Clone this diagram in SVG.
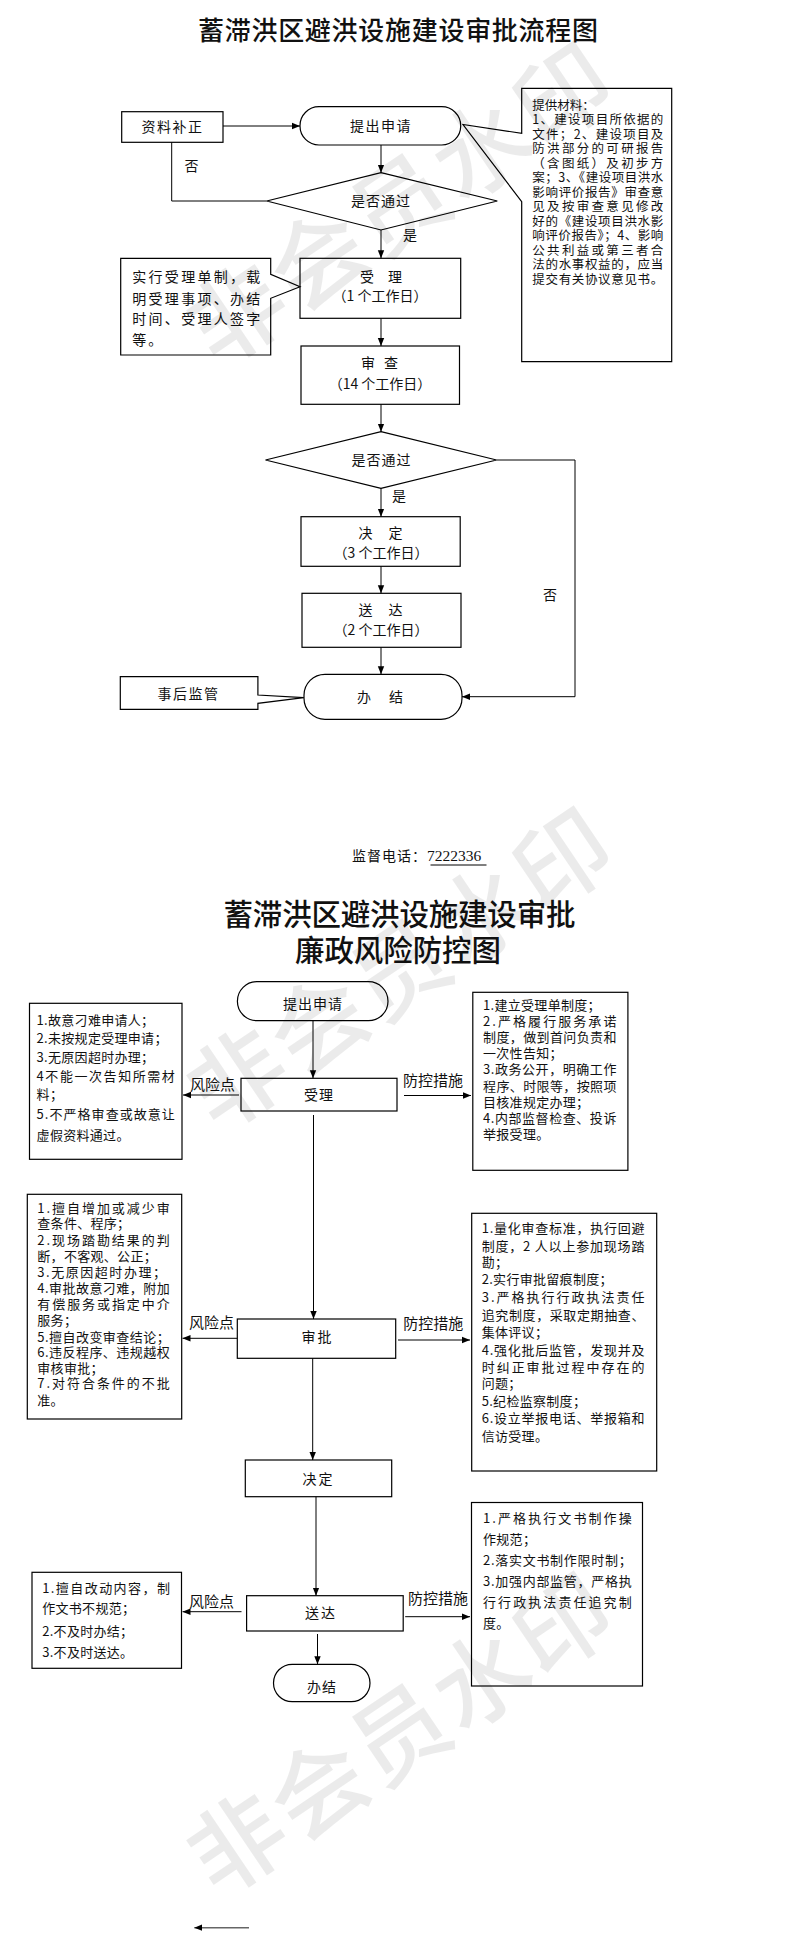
<svg xmlns="http://www.w3.org/2000/svg" width="793" height="1947" viewBox="0 0 793 1947">
<style>
.t{font-family:"Noto Sans CJK SC","Noto Sans",sans-serif;fill:#111;}
.c{text-anchor:middle;}
.f14{font-size:14px;}
.f13{font-size:13px;letter-spacing:0.3px;}
.f125{font-size:12.5px;}
.f15{font-size:15px;}
.box{fill:none;stroke:#000;stroke-width:1.2;}
.ln{fill:none;stroke:#000;stroke-width:1;}
.a{marker-end:url(#ah);}
.wm{font-family:"Noto Sans CJK SC",sans-serif;font-size:95px;font-weight:500;fill:#000;fill-opacity:0.08;letter-spacing:3px;text-anchor:middle;}
</style>
<defs>
<marker id="ah" viewBox="0 0 10 10" refX="10" refY="5" markerWidth="8" markerHeight="8" markerUnits="userSpaceOnUse" orient="auto"><path d="M0,1 L10,5 L0,9 Z" fill="#000"/></marker>
</defs>
<rect x="0" y="0" width="793" height="1947" fill="#fff"/>

<!-- ===== Section 1 ===== -->
<text class="t" x="398" y="40" font-size="26" font-weight="500" text-anchor="middle" textLength="400" lengthAdjust="spacing">蓄滞洪区避洪设施建设审批流程图</text>

<g id="n-zlbz"><rect class="box" x="121.7" y="111.7" width="101.3" height="30.6"/><text class="t f14 c" x="172.5" y="132" letter-spacing="1.5">资料补正</text></g>
<g id="n-tcsq"><rect class="box" x="300" y="106.7" width="160.7" height="38.3" rx="19" ry="19"/><text class="t f14 c" x="381" y="131.3" letter-spacing="1.5">提出申请</text></g>
<g id="n-d1"><polygon class="box" points="381,172.7 497.3,201 381,230 266.7,201"/><text class="t f14 c" x="381" y="206.3" letter-spacing="1">是否通过</text></g>
<g id="n-sl"><rect class="box" x="300" y="258.3" width="160.7" height="60"/><text class="t f14 c" x="381" y="282">受　理</text><text class="t f14 c" x="380" y="301.3">（1 个工作日）</text></g>
<g id="n-sc"><rect class="box" x="301" y="346" width="158.5" height="58.3"/><text class="t f14 c" x="381" y="367.6" letter-spacing="3">审 查</text><text class="t f14 c" x="380" y="389.3">（14 个工作日）</text></g>
<g id="n-d2"><polygon class="box" points="381,431.7 496.6,460 381,488.3 265.5,460"/><text class="t f14 c" x="381.6" y="465.3" letter-spacing="1">是否通过</text></g>
<g id="n-jd"><rect class="box" x="301" y="516.7" width="159.2" height="49.6"/><text class="t f14 c" x="381" y="537.6" letter-spacing="1">决　定</text><text class="t f14 c" x="381" y="558">（3 个工作日）</text></g>
<g id="n-sd"><rect class="box" x="302" y="593.3" width="159" height="54"/><text class="t f14 c" x="381" y="614.6" letter-spacing="1">送　达</text><text class="t f14 c" x="381" y="635.3">（2 个工作日）</text></g>
<g id="n-bj"><rect class="box" x="304" y="674.3" width="158" height="45" rx="21" ry="21"/><text class="t f14 c" x="381" y="702.3" letter-spacing="2">办　结</text></g>

<g id="n-clsq">
<path class="box" d="M521.7,88.3 L671.7,88.3 L671.7,361.7 L521.7,361.7 L521.7,201.7 L463,124.5 L521.7,133.3 Z"/>
<g class="t f125">
<text x="532.3" y="109.8">提供材料：</text>
<text x="532.3" y="124.3" textLength="131" lengthAdjust="spacing">1、建设项目所依据的</text>
<text x="532.3" y="138.8" textLength="131" lengthAdjust="spacing">文件；2、建设项目及</text>
<text x="532.3" y="153.3" textLength="131" lengthAdjust="spacing">防洪部分的可研报告</text>
<text x="532.3" y="167.8" textLength="131" lengthAdjust="spacing">（含图纸）及初步方</text>
<text x="532.3" y="182.3" textLength="131" lengthAdjust="spacing">案；3、《建设项目洪水</text>
<text x="532.3" y="196.8" textLength="131" lengthAdjust="spacing">影响评价报告》审查意</text>
<text x="532.3" y="211.3" textLength="131" lengthAdjust="spacing">见及按审查意见修改</text>
<text x="532.3" y="225.8" textLength="131" lengthAdjust="spacing">好的《建设项目洪水影</text>
<text x="532.3" y="240.3" textLength="131" lengthAdjust="spacing">响评价报告》；4、影响</text>
<text x="532.3" y="254.8" textLength="131" lengthAdjust="spacing">公共利益或第三者合</text>
<text x="532.3" y="269.3" textLength="131" lengthAdjust="spacing">法的水事权益的，应当</text>
<text x="532.3" y="283.8" textLength="131" lengthAdjust="spacing">提交有关协议意见书。</text>
</g>
</g>

<g id="n-slsm">
<path class="box" d="M120.7,258.3 L270.7,258.3 L270.7,274.3 L300,286.7 L270.7,298.3 L270.7,355 L120.7,355 Z"/>
<g class="t f14">
<text x="132.3" y="282" textLength="128" lengthAdjust="spacing">实行受理单制，载</text>
<text x="132.3" y="303.5" textLength="128" lengthAdjust="spacing">明受理事项、办结</text>
<text x="132.3" y="323.5" textLength="128" lengthAdjust="spacing">时间、受理人签字</text>
<text x="132.3" y="345" letter-spacing="2">等。</text>
</g>
</g>

<g id="n-shjg">
<path class="box" d="M120.3,676.7 L257.9,676.7 L257.9,695 L303.8,697.7 L257.9,703.3 L257.9,709.3 L120.3,709.3 Z"/>
<text class="t f14 c" x="188.5" y="698.6" letter-spacing="1.5">事后监管</text>
</g>

<g id="connectors1">
<line class="ln a" x1="223" y1="126" x2="300" y2="126"/>
<line class="ln a" x1="381" y1="145" x2="381" y2="172.7"/>
<polyline class="ln" points="266.7,201 171.7,201 171.7,142.3"/>
<line class="ln a" x1="381" y1="230" x2="381" y2="258.3"/>
<line class="ln a" x1="381" y1="318.3" x2="381" y2="346"/>
<line class="ln a" x1="381" y1="404.3" x2="381" y2="431.7"/>
<line class="ln a" x1="381" y1="488.3" x2="381" y2="516.7"/>
<line class="ln a" x1="381" y1="566.3" x2="381" y2="593.3"/>
<line class="ln a" x1="381" y1="647.3" x2="381" y2="674.3"/>
<polyline class="ln a" points="496.6,460 575,460 575,696.7 462,696.7"/>
<text class="t f14" x="184.5" y="171">否</text>
<text class="t f14" x="403" y="240">是</text>
<text class="t f14" x="392" y="501">是</text>
<text class="t f14" x="543" y="599.6">否</text>
</g>

<g id="phone">
<text class="t f14" x="352" y="861" letter-spacing="1">监督电话：<tspan font-family="Liberation Serif" font-size="15.5" letter-spacing="0">7222336</tspan></text>
<line x1="430.5" y1="865" x2="486.5" y2="865" stroke="#000" stroke-width="1"/>
</g>

<!-- ===== Section 2 ===== -->
<text class="t" x="399.5" y="925" font-size="29.5" font-weight="500" text-anchor="middle" textLength="352" lengthAdjust="spacing">蓄滞洪区避洪设施建设审批</text>
<text class="t" x="398" y="961" font-size="29.5" font-weight="500" text-anchor="middle" textLength="206" lengthAdjust="spacing">廉政风险防控图</text>

<g id="m-tcsq"><rect class="box" x="237.4" y="981.7" width="150.6" height="39" rx="19.5" ry="19.5"/><text class="t f14 c" x="313" y="1009.3" letter-spacing="1">提出申请</text></g>
<g id="m-sl"><rect class="box" x="241" y="1078.3" width="156" height="32.7"/><text class="t f14 c" x="319" y="1100.3" letter-spacing="1">受理</text></g>
<g id="m-sp"><rect class="box" x="237.3" y="1319" width="158.4" height="39.3"/><text class="t f14 c" x="317.5" y="1342" letter-spacing="2">审批</text></g>
<g id="m-jd"><rect class="box" x="245.3" y="1460" width="146.4" height="36.7"/><text class="t f14 c" x="318.5" y="1483.6" letter-spacing="2">决定</text></g>
<g id="m-sd"><rect class="box" x="246.6" y="1595.7" width="156.6" height="35.3"/><text class="t f14 c" x="321" y="1617.6" letter-spacing="2">送达</text></g>
<g id="m-bj"><rect class="box" x="273.5" y="1664.3" width="96.5" height="37.4" rx="18.7" ry="18.7"/><text class="t f14 c" x="322" y="1692" letter-spacing="1">办结</text></g>

<g id="m-risk1">
<rect class="box" x="29.5" y="1003.3" width="152.5" height="156"/>
<g class="t f13">
<text x="36.6" y="1025">1.故意刁难申请人；</text>
<text x="36.6" y="1043.3">2.未按规定受理申请；</text>
<text x="36.6" y="1062.3">3.无原因超时办理；</text>
<text x="36.6" y="1081" textLength="138.5" lengthAdjust="spacing">4不能一次告知所需材</text>
<text x="36.6" y="1099.3">料；</text>
<text x="36.6" y="1119" textLength="138.5" lengthAdjust="spacing">5.不严格审查或故意让</text>
<text x="36.6" y="1140">虚假资料通过。</text>
</g>
</g>

<g id="m-ctrl1">
<rect class="box" x="472.8" y="992.3" width="155.1" height="178"/>
<g class="t f13">
<text x="483" y="1010">1.建立受理单制度；</text>
<text x="483" y="1026.1" textLength="133.7" lengthAdjust="spacing">2.严格履行服务承诺</text>
<text x="483" y="1042.2" textLength="133.7" lengthAdjust="spacing">制度，做到首问负责和</text>
<text x="483" y="1058.3">一次性告知；</text>
<text x="483" y="1074.4" textLength="133.7" lengthAdjust="spacing">3.政务公开，明确工作</text>
<text x="483" y="1090.5" textLength="133.7" lengthAdjust="spacing">程序、时限等，按照项</text>
<text x="483" y="1106.6">目核准规定办理；</text>
<text x="483" y="1122.7" textLength="133.7" lengthAdjust="spacing">4.内部监督检查、投诉</text>
<text x="483" y="1138.8">举报受理。</text>
</g>
</g>

<g id="m-risk2">
<rect class="box" x="27.3" y="1194.3" width="154.4" height="224.7"/>
<g class="t f13">
<text x="37.3" y="1212.7" textLength="132.7" lengthAdjust="spacing">1.擅自增加或减少审</text>
<text x="37.3" y="1228.3">查条件、程序；</text>
<text x="37.3" y="1245" textLength="132.7" lengthAdjust="spacing">2.现场踏勘结果的判</text>
<text x="37.3" y="1261">断，不客观、公正；</text>
<text x="37.3" y="1276.7" textLength="129" lengthAdjust="spacing">3.无原因超时办理；</text>
<text x="37.3" y="1292.7" textLength="132.7" lengthAdjust="spacing">4.审批故意刁难，附加</text>
<text x="37.3" y="1309.3" textLength="132.7" lengthAdjust="spacing">有偿服务或指定中介</text>
<text x="37.3" y="1325">服务；</text>
<text x="37.3" y="1341.7" textLength="132.7" lengthAdjust="spacing">5.擅自改变审查结论；</text>
<text x="37.3" y="1356.7" textLength="132.7" lengthAdjust="spacing">6.违反程序、违规越权</text>
<text x="37.3" y="1372.7">审核审批；</text>
<text x="37.3" y="1388.3" textLength="132.7" lengthAdjust="spacing">7.对符合条件的不批</text>
<text x="37.3" y="1405">准。</text>
</g>
</g>

<g id="m-ctrl2">
<rect class="box" x="471.7" y="1213.3" width="185" height="257.7"/>
<g class="t f13">
<text x="481.7" y="1233.3" textLength="163" lengthAdjust="spacing">1.量化审查标准，执行回避</text>
<text x="481.7" y="1250.7" textLength="163" lengthAdjust="spacing">制度，2 人以上参加现场踏</text>
<text x="481.7" y="1266.7">勘；</text>
<text x="481.7" y="1284">2.实行审批留痕制度；</text>
<text x="481.7" y="1302.3" textLength="163" lengthAdjust="spacing">3.严格执行行政执法责任</text>
<text x="481.7" y="1320" textLength="163" lengthAdjust="spacing">追究制度，采取定期抽查、</text>
<text x="481.7" y="1337.3">集体评议；</text>
<text x="481.7" y="1355" textLength="163" lengthAdjust="spacing">4.强化批后监管，发现并及</text>
<text x="481.7" y="1371.7" textLength="163" lengthAdjust="spacing">时纠正审批过程中存在的</text>
<text x="481.7" y="1388.3">问题；</text>
<text x="481.7" y="1406">5.纪检监察制度；</text>
<text x="481.7" y="1423.3" textLength="163" lengthAdjust="spacing">6.设立举报电话、举报箱和</text>
<text x="481.7" y="1440.7">信访受理。</text>
</g>
</g>

<g id="m-risk3">
<rect class="box" x="32" y="1572.3" width="149.5" height="96"/>
<g class="t f13">
<text x="42.2" y="1593.3" textLength="128" lengthAdjust="spacing">1.擅自改动内容，制</text>
<text x="42.2" y="1613.3">作文书不规范；</text>
<text x="42.2" y="1636">2.不及时办结；</text>
<text x="42.2" y="1656.7">3.不及时送达。</text>
</g>
</g>

<g id="m-ctrl3">
<rect class="box" x="471.5" y="1502.5" width="171" height="183.5"/>
<g class="t f13">
<text x="483" y="1523.3" textLength="149" lengthAdjust="spacing">1.严格执行文书制作操</text>
<text x="483" y="1544">作规范；</text>
<text x="483" y="1565" textLength="149" lengthAdjust="spacing">2.落实文书制作限时制；</text>
<text x="483" y="1585.5" textLength="149" lengthAdjust="spacing">3.加强内部监管，严格执</text>
<text x="483" y="1606.7" textLength="149" lengthAdjust="spacing">行行政执法责任追究制</text>
<text x="483" y="1627.7">度。</text>
</g>
</g>

<g id="connectors2">
<line class="ln a" x1="313" y1="1020.7" x2="313" y2="1078.3"/>
<line class="ln a" x1="313.5" y1="1115" x2="313.5" y2="1319"/>
<line class="ln a" x1="312.7" y1="1358.3" x2="312.7" y2="1460"/>
<line class="ln a" x1="316" y1="1496.7" x2="316" y2="1595.7"/>
<line class="ln a" x1="317.5" y1="1634" x2="317.5" y2="1664.3"/>
<line class="ln a" x1="239" y1="1095" x2="183" y2="1095"/>
<line class="ln a" x1="404" y1="1095.5" x2="471" y2="1095.5"/>
<line class="ln a" x1="237.3" y1="1338.3" x2="182.5" y2="1338.3"/>
<line class="ln a" x1="398" y1="1340" x2="470" y2="1340"/>
<line class="ln a" x1="241.5" y1="1611.7" x2="182.5" y2="1611.7"/>
<line class="ln a" x1="405.2" y1="1616.7" x2="470" y2="1616.7"/>
<g class="t f15">
<text x="190" y="1089.7">风险点</text>
<text x="403" y="1085.7">防控措施</text>
<text x="189" y="1328.4">风险点</text>
<text x="403.3" y="1329">防控措施</text>
<text x="189" y="1607.4">风险点</text>
<text x="408" y="1604">防控措施</text>
</g>
</g>

<g id="bottom-arrow">
<line x1="249" y1="1927.7" x2="194.3" y2="1927.7" stroke="#666" stroke-width="1.5" marker-end="url(#ah)"/>
</g>

<g id="watermarks">
<text class="wm" x="400.5" y="238.5" transform="rotate(-34 400.5 202.5)">非会员水印</text>
<text class="wm" x="400.5" y="1003.5" transform="rotate(-34 400.5 967.5)">非会员水印</text>
<text class="wm" x="400.5" y="1768.5" transform="rotate(-34 400.5 1732.5)">非会员水印</text>
</g>
</svg>
